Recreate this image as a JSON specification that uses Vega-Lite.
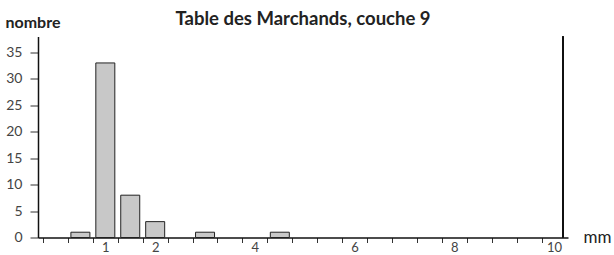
{
  "$schema": "https://vega.github.io/schema/vega-lite/v6.json",
  "autosize": "none",
  "width": 530,
  "height": 201,
  "padding": {"left": 38, "top": 36.5, "right": 46, "bottom": 17.5},
  "background": "white",
  "view": {"stroke": null},
  "title": {
    "text": "Table des Marchands, couche 9",
    "frame": "group",
    "anchor": "middle",
    "offset": -14,
    "font": "Lato",
    "fontSize": 18.5,
    "fontWeight": "bold",
    "color": "#222"
  },
  "data": {
    "values": [
      {"taille_mm": 0.5, "nombre": 1},
      {"taille_mm": 1.0, "nombre": 33},
      {"taille_mm": 1.5, "nombre": 8},
      {"taille_mm": 2.0, "nombre": 3},
      {"taille_mm": 3.0, "nombre": 1},
      {"taille_mm": 4.5, "nombre": 1}
    ]
  },
  "resolve": {"axis": {"x": "independent"}},
  "layer": [
    {
      "mark": {"type": "bar", "size": 19, "fill": "#c8c8c8", "stroke": "#222", "strokeWidth": 1},
      "encoding": {
        "x": {
          "field": "taille_mm",
          "type": "quantitative",
          "scale": {"domain": [-0.25, 10.18], "nice": false, "zero": false},
          "axis": {
            "orient": "bottom",
            "values": [-0.25, 0.25, 0.75, 1.25, 1.75, 2.25, 2.75, 3.25, 3.75, 4.25, 4.75, 5.25, 5.75, 6.25, 6.75, 7.25, 7.75, 8.25, 8.75, 9.25, 9.75],
            "labels": false,
            "grid": false,
            "tickSize": 5,
            "tickColor": "#333",
            "tickWidth": 1,
            "domainColor": "#111",
            "domainWidth": 1.5,
            "title": "mm",
            "titleX": 545,
            "titleY": 0,
            "titleAlign": "left",
            "titleBaseline": "middle",
            "titleAngle": 0,
            "titleFont": "Lato",
            "titleFontSize": 17,
            "titleFontWeight": "normal",
            "titleColor": "#222"
          }
        },
        "y": {
          "field": "nombre",
          "type": "quantitative",
          "scale": {"domain": [0, 38], "nice": false},
          "axis": {
            "values": [0, 5, 10, 15, 20, 25, 30, 35],
            "grid": false,
            "tickSize": 8,
            "tickColor": "#333",
            "labelPadding": 8,
            "labelFont": "Lato",
            "labelFontSize": 14,
            "labelColor": "#444",
            "domainColor": "#111",
            "domainWidth": 1.5,
            "title": "nombre",
            "titleAngle": 0,
            "titleAlign": "left",
            "titleBaseline": "alphabetic",
            "titleX": -33,
            "titleY": -9.5,
            "titleFont": "Lato",
            "titleFontSize": 16,
            "titleFontWeight": "bold",
            "titleColor": "#222"
          }
        }
      }
    },
    {
      "mark": {"type": "rule", "color": "#111", "strokeWidth": 1.5},
      "encoding": {
        "x": {
          "datum": 10.18,
          "type": "quantitative",
          "axis": {
            "orient": "bottom",
            "values": [1, 2, 4, 6, 8, 10],
            "ticks": false,
            "domain": false,
            "grid": false,
            "labelOverlap": false,
            "labelFlush": false,
            "labelPadding": 4,
            "labelFont": "Lato",
            "labelFontSize": 13,
            "labelColor": "#444",
            "title": null
          }
        }
      }
    }
  ]
}
